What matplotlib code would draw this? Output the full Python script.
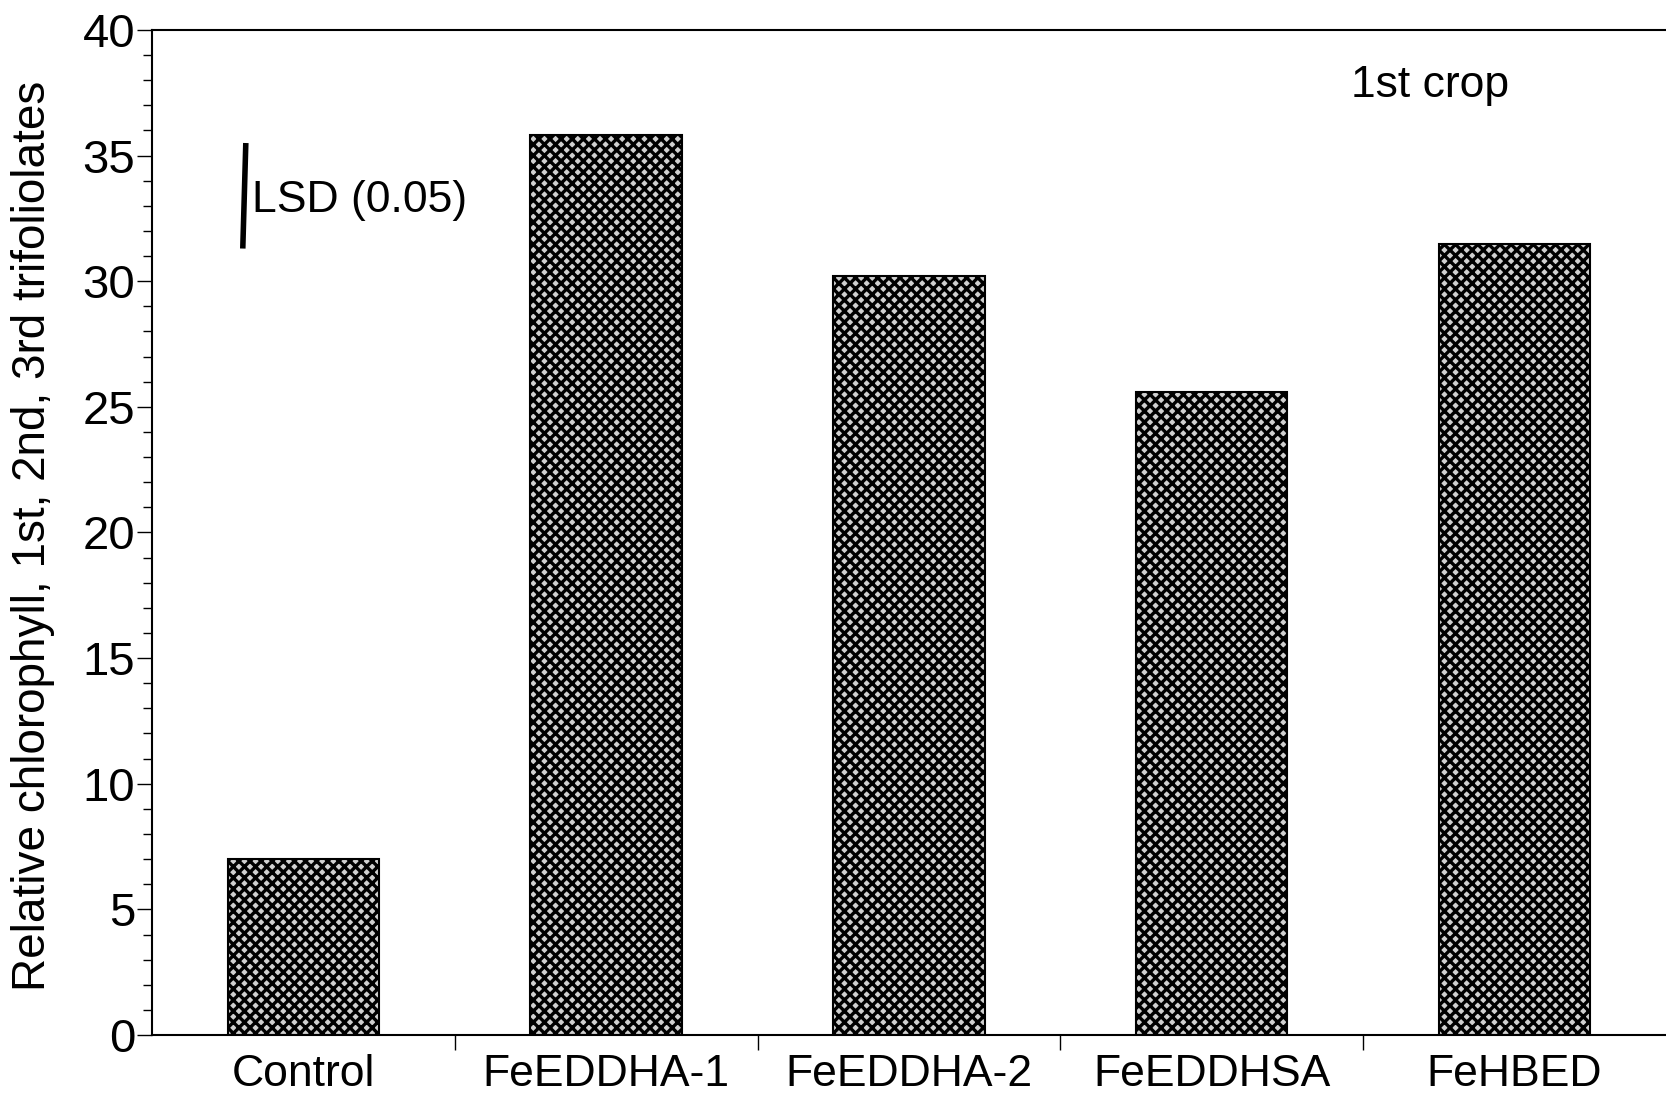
import numpy as np
import matplotlib.pyplot as plt
from matplotlib.ticker import MultipleLocator

plt.rcParams['font.family'] = ['Liberation Sans', 'DejaVu Sans']
plt.rcParams['hatch.linewidth'] = 2.4

treatments = ['Control', 'FeEDDHA-1', 'FeEDDHA-2', 'FeEDDHSA', 'FeHBED']
chlorophyll = [7.0, 35.8, 30.2, 25.6, 31.5]
lsd_low, lsd_high = 31.3, 35.5

fig = plt.figure(figsize=(16.66, 10.97), dpi=100)
ax = fig.add_axes([0.0912, 0.0565, 0.9088, 0.9162])

x = np.arange(len(treatments))
# hatch fill first, then outline on top
ax.bar(x, chlorophyll, width=0.5, color='#d0d0d0', edgecolor='black',
       hatch='xxx', linewidth=0, zorder=2)
ax.bar(x, chlorophyll, width=0.5, fill=False, edgecolor='black',
       linewidth=1.5, zorder=3)

ax.set_xlim(-0.5, 4.5)
ax.set_ylim(0, 40)
ax.yaxis.set_major_locator(MultipleLocator(5))
ax.yaxis.set_minor_locator(MultipleLocator(1))
ax.set_xticks(x)
ax.set_xticklabels(treatments, fontsize=32)
ax.set_xticks(x[:-1] + 0.5, minor=True)
ax.tick_params(axis='x', which='major', length=0, pad=14)
ax.tick_params(axis='x', which='minor', length=11, width=1)
ax.tick_params(axis='y', which='major', length=11, width=1, labelsize=34, pad=1)
ax.tick_params(axis='y', which='minor', length=6.5, width=1)
ax.spines['right'].set_visible(False)
for s in ['left', 'top', 'bottom']:
    ax.spines[s].set_linewidth(1.5)

ax.set_ylabel('Relative chlorophyll, 1st, 2nd, 3rd trifoliolates', fontsize=33)
ax.yaxis.set_label_coords(-0.064, 0.497)

ax.plot([-0.19, -0.20], [lsd_high, lsd_low], color='black', linewidth=4, solid_capstyle='butt')
ax.text(-0.17, 33.2, 'LSD (0.05)', fontsize=32, va='center', ha='left')
ax.text(3.46, 37.8, '1st crop', fontsize=32, va='center', ha='left')

fig.savefig('out.png', dpi=100)
